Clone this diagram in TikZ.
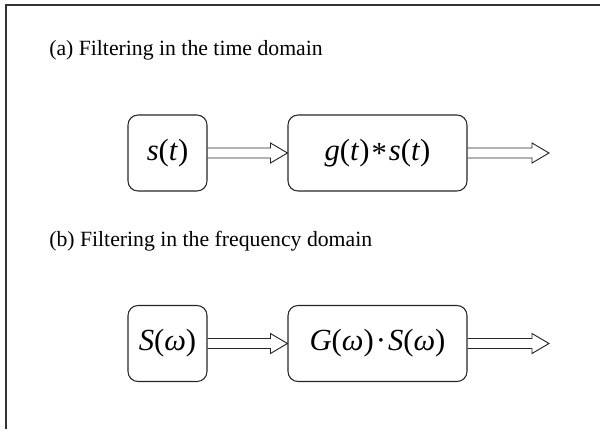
\documentclass[tikz,border=0pt]{standalone}
\usepackage{fontspec}
\setmainfont{Liberation Serif}
\usetikzlibrary{calc}
\tikzstyle{frame}=[draw=black!80,line width=1.1pt]
\tikzstyle{block}=[draw=black!85,line width=0.8pt,rounded corners=7.5pt,minimum height=57pt,inner sep=0pt,font=\fontsize{23}{26}\selectfont]
\tikzstyle{fat}=[draw=black!85,line width=0.7pt,line join=miter]
\tikzstyle{caption}=[anchor=base west,inner sep=0pt,font=\fontsize{16.3}{19}\selectfont]
\newcommand{\va}[1]{\textit{#1}}
% hollow arrow from one node to another
\newcommand{\hollowarrow}[2]{%
  \draw[fat] ($(#1)+(0,-5)$) -- ($(#2)+(-17,-5)$) -- ($(#2)+(-17,-10)$) -- (#2)
    -- ($(#2)+(-17,10)$) -- ($(#2)+(-17,5)$) -- ($(#1)+(0,5)$);}

\begin{document}
\begin{tikzpicture}[x=0.75pt,y=-0.75pt]
  \useasboundingbox (0,0) rectangle (600,429);
  \draw[frame] (600,5) -- (6,5) -- (6,429);

  % (a) time domain
  \node[caption] (capa) at (49,55) {(a) Filtering in the time domain};
  \node[block,minimum width=59.25pt] (st) at (167.5,153) {\va{s}(\va{t})};
  \node[block,minimum width=134.25pt] (gst) at (377.5,153)
    {\va{g}(\va{t})\kern1.5pt\raisebox{-0.25ex}{*}\kern1.5pt\va{s}(\va{t})};
  \coordinate (outa) at (549,153);
  \hollowarrow{st.east}{gst.west}
  \hollowarrow{gst.east}{outa}

  % (b) frequency domain
  \node[caption] (capb) at (49,246) {(b) Filtering in the frequency domain};
  \node[block,minimum width=59.25pt] (Sw) at (167.5,343.5) {\va{S}(\va{ω})};
  \node[block,minimum width=134.25pt] (GSw) at (377.5,343.5)
    {\va{G}(\va{ω})\kern1.5pt·\kern1.5pt\va{S}(\va{ω})};
  \coordinate (outb) at (549,343.5);
  \hollowarrow{Sw.east}{GSw.west}
  \hollowarrow{GSw.east}{outb}
\end{tikzpicture}
\end{document}
